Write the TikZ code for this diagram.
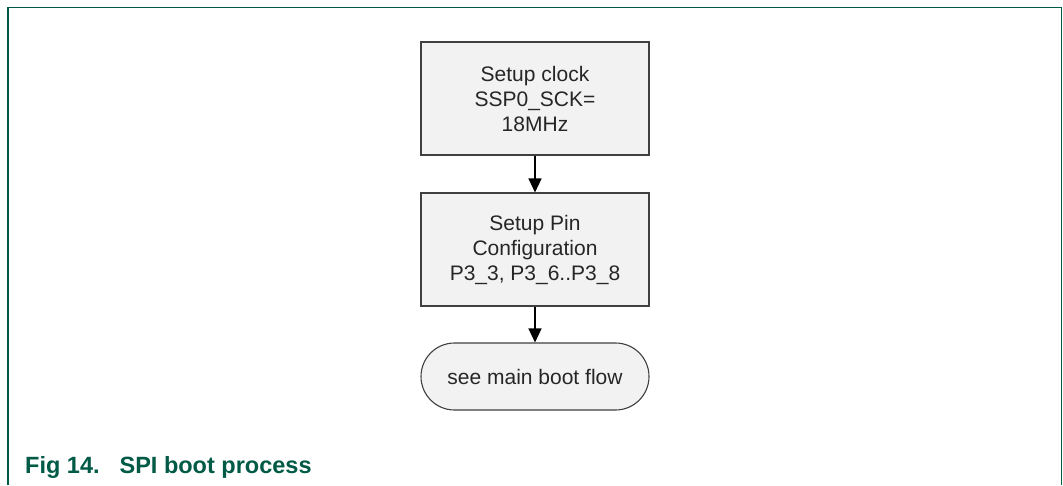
\documentclass[tikz,border=0pt]{standalone}
\usepackage{fontspec}
\setmainfont{Liberation Sans}
\usetikzlibrary{arrows.meta,shapes.misc}
\definecolor{nxpgreen}{RGB}{0,90,70}
\definecolor{boxfill}{RGB}{242,242,242}
\definecolor{boxline}{RGB}{64,64,64}
\begin{document}
\begin{tikzpicture}[x=1pt,y=-1pt,
  procbox/.style={draw=boxline,fill=boxfill,line width=1.1pt,minimum width=228pt,inner sep=0pt,align=center,font=\fontsize{21}{25}\selectfont,text=black!85},
  termbox/.style={draw=boxline,fill=boxfill,line width=1.1pt,rounded rectangle,minimum width=228pt,minimum height=67pt,inner sep=0pt,align=center,font=\fontsize{21}{25}\selectfont,text=black!85},
  flow/.style={draw=black,line width=1.3pt,-{Triangle[length=14pt,width=13pt]}}]
\useasboundingbox (0,0) rectangle (1063,485);
\fill[white] (0,0) rectangle (1063,485);
\draw[nxpgreen,line width=1.4pt] (8,485) -- (8,7.5) -- (1061.5,7.5) -- (1061.5,485);
\node[procbox,minimum height=113pt] (clk) at (535,98.5) {Setup clock\\SSP0\_SCK=\\18MHz};
\node[procbox,minimum height=113pt] (pin) at (535,249.5) {Setup Pin\\Configuration\\P3\_3, P3\_6..P3\_8};
\node[termbox] (boot) at (535,376.5) {see main boot flow};
\draw[flow] (clk) -- (pin);
\draw[flow] (pin) -- (boot);
\node[anchor=base west,inner sep=0pt,text=nxpgreen,font=\fontsize{23.5}{27}\bfseries\selectfont] (cap) at (25,473) {Fig 14.\hspace{0.85em}SPI boot process};
\end{tikzpicture}
\end{document}
